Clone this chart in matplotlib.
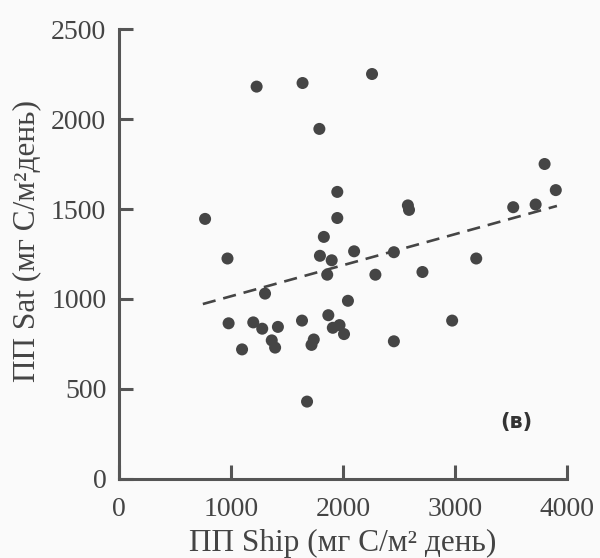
import numpy as np
import matplotlib
matplotlib.use("Agg")
from matplotlib import pyplot as plt

# PP measured from ship vs PP from satellite (mg C/m2 day)
ship = [770, 970, 980, 1100, 1230, 1640, 1790, 1950, 1950, 1830, 1795, 1900,
        2260, 2100, 2455, 2580, 2590, 3520, 3720, 3800, 3900, 3190, 2710,
        2290, 1860, 1635, 1870, 2045, 1910, 1970, 2010, 1740, 1720, 1680,
        2455, 2975, 1200, 1280, 1305, 1420, 1365, 1395]
sat = [1445, 1225, 865, 720, 2180, 2200, 1945, 1595, 1450, 1345, 1240, 1215,
       2250, 1265, 1260, 1520, 1495, 1510, 1525, 1750, 1605, 1225, 1150,
       1135, 1135, 880, 910, 990, 840, 855, 805, 775, 745, 430,
       765, 880, 870, 835, 1030, 845, 770, 730]

trend_x = [750, 3910]
trend_y = [972, 1517]

xticks = [0, 1000, 2000, 3000, 4000]
yticks = [0, 500, 1000, 1500, 2000, 2500]

plt.rcParams['font.family'] = ['Liberation Serif', 'DejaVu Serif']

fig = plt.figure(figsize=(6, 5.58), dpi=100)
fig.patch.set_facecolor('#fafafa')
ax = fig.add_axes([0.198, 0.1416, 0.747, 0.8064])
ax.set_facecolor('#fafafa')

ax.scatter(ship, sat, s=75, color='#454545', edgecolors='none', zorder=3)
ax.plot(trend_x, trend_y, color='#454545', lw=1.9, dashes=(5, 3), zorder=2)

ax.set_xlim(0, 4000)
ax.set_ylim(0, 2500)
ax.set_xticks(xticks)
ax.set_yticks(yticks)
ax.set_xticklabels([str(t) for t in xticks])
ax.set_yticklabels([str(t) for t in yticks])

for s in ['top', 'right']:
    ax.spines[s].set_visible(False)
for s in ['left', 'bottom']:
    ax.spines[s].set_color('#555555')
    ax.spines[s].set_linewidth(2.2)

ax.tick_params(axis='both', direction='in', length=10, width=2.2,
               color='#555555', labelsize=20, labelcolor='#444444')
ax.tick_params(axis='x', pad=13)
ax.tick_params(axis='y', pad=9)

ax.set_xlabel('ПП Ship (мг С/м² день)', fontsize=22.5, color='#444444',
              labelpad=5)
ax.set_ylabel('ПП Sat (мг С/м²день)', fontsize=22.5, color='#444444')
ax.yaxis.set_label_coords(-0.172, 0.53)

ax.text(3545, 317, '(в)', fontsize=15, fontweight='semibold', color='#333333',
        family=['DejaVu Sans'], ha='center', va='center')

fig.savefig('out.png', dpi=100, facecolor=fig.get_facecolor())
